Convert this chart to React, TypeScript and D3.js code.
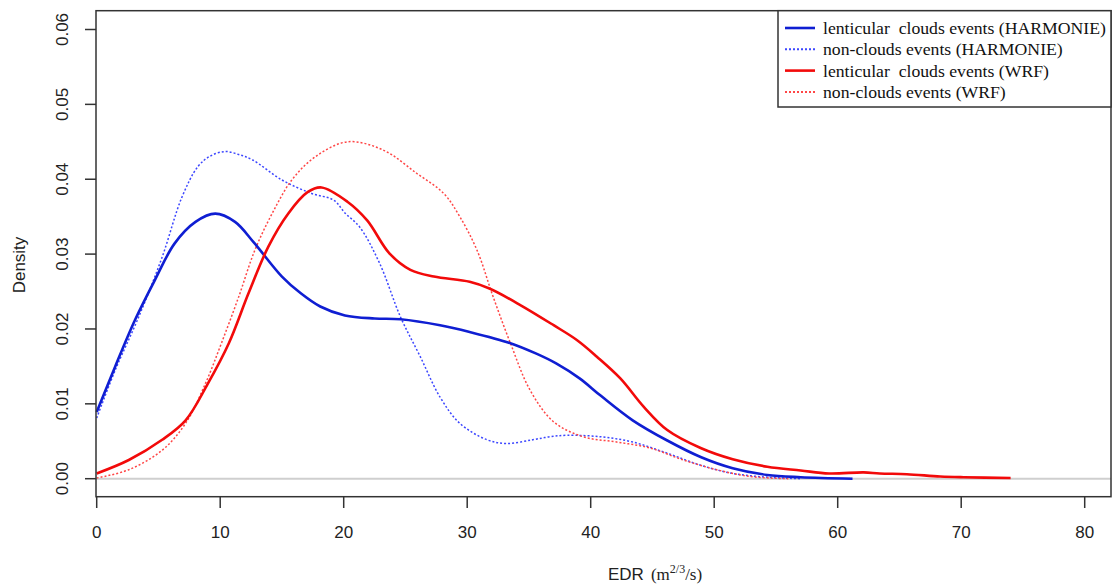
import * as d3 from "d3";

// density curves (x = EDR, y = density)
const harmLentX = [0, 1.5, 3.1, 4.7, 6.3, 8, 9.6, 11.2, 12.7, 15, 16.5, 18.1, 20.1, 22.5, 24.6, 27.8, 30.2, 33.5, 35.6, 37.2, 39.1, 40.8, 43.4, 46.2, 48.9, 51.5, 54.3, 57, 61.2];
const harmLentY = [0.0089, 0.015, 0.0212, 0.0265, 0.0314, 0.0343, 0.0354, 0.0343, 0.0316, 0.027, 0.0248, 0.023, 0.0218, 0.0214, 0.0213, 0.0205, 0.0196, 0.0181, 0.0167, 0.0154, 0.0134, 0.0111, 0.0078, 0.0051, 0.0029, 0.0014, 0.0005, 0.0002, 0.0];

const harmNonX = [0, 1.5, 3.4, 5.3, 6.9, 8.2, 9.2, 10.4, 11.5, 12.6, 15, 17.4, 19.2, 20.1, 21.3, 22.9, 24.6, 26.2, 27.8, 29.4, 31.6, 33.2, 35.3, 36.7, 38.1, 40.8, 43.4, 46.2, 48.9, 51.5, 54.3, 57];
const harmNonY = [0.0081, 0.0145, 0.0216, 0.0296, 0.0376, 0.0417, 0.0431, 0.0437, 0.0433, 0.0426, 0.0399, 0.0381, 0.0372, 0.0355, 0.0336, 0.0288, 0.0216, 0.0163, 0.0109, 0.0074, 0.0052, 0.0047, 0.0052, 0.0056, 0.0058, 0.0056, 0.0049, 0.0034, 0.0018, 0.0007, 0.0002, 0.0];

const wrfLentX = [0, 2.6, 5.3, 7.2, 9, 10.7, 12.3, 13.9, 15.5, 17.1, 18.2, 20.3, 21.9, 23.7, 25.4, 27.3, 30.2, 31.8, 34.3, 37, 38.9, 40.5, 42.4, 44.3, 46.2, 48.9, 51.5, 54.3, 57, 59.3, 62.1, 63.4, 65.6, 68.3, 70.2, 74];
const wrfLentY = [0.0007, 0.0025, 0.0052, 0.0078, 0.0127, 0.0181, 0.0248, 0.031, 0.0354, 0.0383, 0.0389, 0.037, 0.0345, 0.0301, 0.0279, 0.027, 0.0263, 0.0254, 0.0232, 0.0205, 0.0185, 0.0163, 0.0134, 0.0096, 0.0065, 0.0041, 0.0026, 0.0016, 0.0011, 0.0007, 0.00085, 0.0007, 0.0006, 0.0003, 0.0002, 0.0001];

const wrfNonX = [0, 2.6, 5.3, 7.2, 8.8, 10.1, 11.5, 12.8, 14.2, 15.8, 17.7, 20.3, 23.2, 25.9, 28.1, 29.4, 30.8, 32.1, 33.5, 35.1, 37, 39.4, 42.1, 44.8, 47.5, 50.2, 52.9, 56];
const wrfNonY = [0.0001, 0.0012, 0.0038, 0.0074, 0.0127, 0.0181, 0.0243, 0.0305, 0.0354, 0.0399, 0.043, 0.045, 0.0439, 0.0408, 0.0381, 0.035, 0.0305, 0.0243, 0.0181, 0.0118, 0.0076, 0.0056, 0.0049, 0.0041, 0.0025, 0.0012, 0.0003, 0.0];

const xTicks = [0, 10, 20, 30, 40, 50, 60, 70, 80];
const yTicks = [0, 0.01, 0.02, 0.03, 0.04, 0.05, 0.06];

const legendLabels = [
  "lenticular  clouds events (HARMONIE)",
  "non-clouds events (HARMONIE)",
  "lenticular  clouds events (WRF)",
  "non-clouds events (WRF)",
];

const BLUE = "#0f1ed2";
const RED = "#f20a0a";
const BLUE_DOT = "#3c46ff";
const RED_DOT = "#ff4646";

const series = [
  { xs: harmLentX, ys: harmLentY, color: BLUE, dash: null, w: 2.6 },
  { xs: harmNonX, ys: harmNonY, color: BLUE_DOT, dash: "2,2", w: 1.5 },
  { xs: wrfLentX, ys: wrfLentY, color: RED, dash: null, w: 2.6 },
  { xs: wrfNonX, ys: wrfNonY, color: RED_DOT, dash: "2,2", w: 1.5 },
];

export default function App() {
  const W = 1112, H = 585;
  const left = 96, right = 1111, top = 10.7, bottom = 496.7;

  const x = d3.scaleLinear().domain([0, 10]).range([96.7, 220.2]);
  const y = d3.scaleLinear().domain([0, 0.06]).range([478.7, 29.5]);

  const line = d3.line<[number, number]>()
    .x((d) => x(d[0]))
    .y((d) => Math.min(y(0), y(d[1])))
    .curve(d3.curveCatmullRom.alpha(0.5));

  const sans = "'Liberation Sans', Arial, sans-serif";
  const serif = "'Liberation Serif', 'Times New Roman', serif";
  const ink = "#333";

  return (
    <svg width={W} height={H} style={{ position: "absolute", left: 0, top: 0, background: "#fff" }}>
      {/* zero reference line */}
      <line x1={left} x2={right} y1={y(0)} y2={y(0)} stroke="#cfcfcf" strokeWidth={2} />

      {/* curves (dotted underneath solids) */}
      {[series[1], series[3], series[0], series[2]].map((s, i) => (
        <path
          key={i}
          d={line(s.xs.map((v, j) => [v, s.ys[j]] as [number, number])) || ""}
          fill="none"
          stroke={s.color}
          strokeWidth={s.w}
          strokeDasharray={s.dash || undefined}
          strokeLinejoin="round"
        />
      ))}

      {/* frame */}
      <rect x={left} y={top} width={right - left} height={bottom - top} fill="none" stroke={ink} strokeWidth={1.5} />

      {/* x axis */}
      {xTicks.map((t) => (
        <g key={t}>
          <line x1={x(t)} x2={x(t)} y1={bottom} y2={508} stroke={ink} strokeWidth={1.5} />
          <text x={x(t)} y={532} textAnchor="middle" dominantBaseline="central" fontFamily={sans} fontSize={17} fill="#222">
            {t}
          </text>
        </g>
      ))}

      {/* y axis */}
      {yTicks.map((t) => (
        <g key={t}>
          <line x1={85} x2={left} y1={y(t)} y2={y(t)} stroke={ink} strokeWidth={1.5} />
          <text
            transform={`translate(62,${y(t)}) rotate(-90)`}
            textAnchor="middle"
            dominantBaseline="central"
            fontFamily={sans}
            fontSize={17}
            fill="#222"
          >
            {t.toFixed(2)}
          </text>
        </g>
      ))}

      {/* axis titles */}
      <text transform="translate(19,265) rotate(-90)" textAnchor="middle" dominantBaseline="central" fontFamily={sans} fontSize={17} fill="#222">
        Density
      </text>
      <text x={608} y={580} fontFamily={sans} fontSize={17} fill="#222">
        EDR
        <tspan fontFamily={serif} dx={7}>(m</tspan>
        <tspan fontFamily={serif} fontSize={12} dy={-7}>2/3</tspan>
        <tspan fontFamily={serif} dy={7}>/s)</tspan>
      </text>

      {/* legend */}
      <rect x={778} y={top} width={right - 778} height={107 - top} fill="#fff" stroke={ink} strokeWidth={1.5} />
      {legendLabels.map((lab, i) => {
        const s = series[i];
        const ly = 28 + i * 21.3;
        return (
          <g key={lab}>
            <line x1={785} x2={815} y1={ly} y2={ly} stroke={s.color} strokeWidth={s.dash ? 2 : 2.6} strokeDasharray={s.dash || undefined} />
            <text
              x={823}
              y={ly}
              dominantBaseline="central"
              fontFamily={serif}
              fontSize={17.7}
              fill="#111"
              style={{ whiteSpace: "pre" }}
            >
              {lab}
            </text>
          </g>
        );
      })}
    </svg>
  );
}
